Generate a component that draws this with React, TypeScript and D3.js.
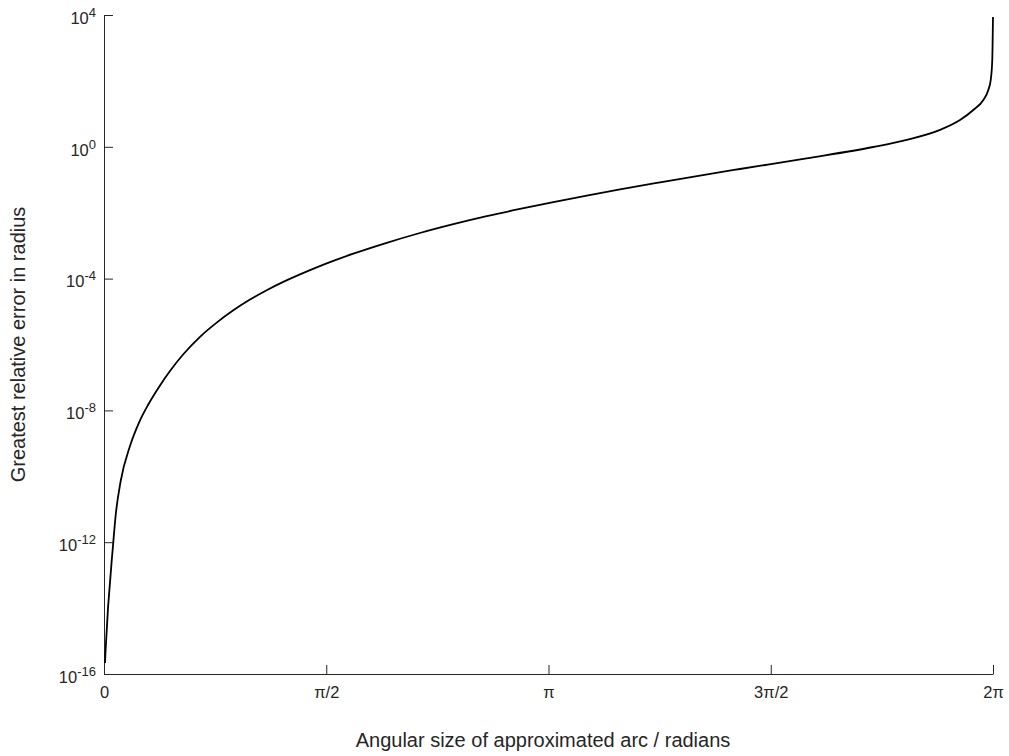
import React, { useEffect, useRef } from "react";
import * as d3 from "d3";

// values (angle in radians, greatest relative error)
const angles = [
  0.00707, 0.0106, 0.0657, 0.0827, 0.118, 0.1838, 0.2474, 0.311, 0.3958, 0.4665,
  0.5605, 0.6785, 0.7965, 0.9139, 1.0319, 1.1499, 1.2672, 1.3853, 1.5033, 1.6206,
  1.762, 1.998, 2.233, 2.469, 2.705, 2.94, 3.176, 3.412, 3.647, 3.93,
  4.212, 4.495, 4.966, 5.437, 5.673, 5.909, 6.05, 6.144, 6.215, 6.25,
  6.267, 6.278, 6.2831,
];
const errors = [
  2.16e-16, 4.66e-16, 1.0e-12, 6.7e-12, 7.2e-11, 8.3e-10, 4.27e-9, 1.46e-8, 5.74e-8, 1.57e-7,
  5.05e-7, 1.71e-6, 4.62e-6, 1.09e-5, 2.31e-5, 4.45e-5, 7.94e-5, 1.34e-4, 2.19e-4, 3.44e-4,
  5.7e-4, 1.22e-3, 2.42e-3, 4.48e-3, 7.83e-3, 0.013, 0.021, 0.033, 0.0509, 0.0832,
  0.134, 0.212, 0.448, 0.986, 1.63, 3.28, 6.5, 13.1, 26.3, 53,
  106, 431, 8700,
];

const xTicks = [0, Math.PI / 2, Math.PI, (3 * Math.PI) / 2, 2 * Math.PI];
const xTickLabels = ["0", "π/2", "π", "3π/2", "2π"];
const yTickExps = [-16, -12, -8, -4, 0, 4];

const FONT = "'Liberation Sans', Arial, Helvetica, sans-serif";

const App = () => {
  const ref = useRef<SVGSVGElement>(null);

  useEffect(() => {
    const width = 1009,
      height = 756;
    const margin = { top: 15, right: 16, bottom: 82, left: 104 };

    const svg = d3.select(ref.current);
    svg.selectAll("*").remove();

    const x = d3
      .scaleLinear()
      .domain([0, 2 * Math.PI])
      .range([margin.left, width - margin.right]);
    const y = d3
      .scaleLog()
      .domain([1e-16, 1e4])
      .range([height - margin.bottom, margin.top]);

    // x axis
    const gx = svg
      .append("g")
      .attr("transform", `translate(0,${height - margin.bottom})`)
      .call(
        d3
          .axisBottom(x)
          .tickValues(xTicks)
          .tickFormat((d, i) => xTickLabels[i])
          .tickSizeInner(-9)
          .tickSizeOuter(0)
          .tickPadding(12)
      );
    gx.selectAll("text").attr("font-size", 16.5).attr("font-family", FONT).attr("fill", "#262626");
    gx.selectAll("line,path").attr("stroke", "#262626");

    // y axis
    const gy = svg
      .append("g")
      .attr("transform", `translate(${margin.left},0)`)
      .call(
        d3
          .axisLeft(y)
          .tickValues(yTickExps.map((e) => Math.pow(10, e)))
          .tickFormat(() => "")
          .tickSizeInner(-9)
          .tickSizeOuter(0)
          .tickPadding(8)
      );
    gy.selectAll("line,path").attr("stroke", "#262626");
    gy.selectAll("text")
      .attr("font-family", FONT)
      .attr("fill", "#262626")
      .attr("font-size", 16.5)
      .attr("dy", "0.5em")
      .each(function (d, i) {
        const t = d3.select(this);
        t.append("tspan").text("10");
        t.append("tspan")
          .attr("font-size", 13)
          .attr("dy", -7)
          .text(String(yTickExps[i]));
      });

    // curve
    const pts = angles.map((a, i) => [a, errors[i]] as [number, number]);
    const line = d3
      .line<[number, number]>()
      .x((d) => x(d[0]))
      .y((d) => y(d[1]))
      .curve(d3.curveMonotoneX);
    svg
      .append("path")
      .datum(pts)
      .attr("d", line)
      .attr("fill", "none")
      .attr("stroke", "#000")
      .attr("stroke-width", 1.8)
      .attr("stroke-linejoin", "round");

    // axis labels
    svg
      .append("text")
      .attr("x", 543)
      .attr("y", 747)
      .attr("text-anchor", "middle")
      .attr("font-family", FONT)
      .attr("font-size", 20)
      .attr("fill", "#262626")
      .text("Angular size of approximated arc / radians");

    svg
      .append("text")
      .attr("transform", `translate(25,${(margin.top + height - margin.bottom) / 2}) rotate(-90)`)
      .attr("text-anchor", "middle")
      .attr("font-family", FONT)
      .attr("font-size", 20)
      .attr("fill", "#262626")
      .text("Greatest relative error in radius");
  }, []);

  return (
    <svg
      ref={ref}
      width={1009}
      height={756}
      style={{ position: "absolute", left: 0, top: 0, background: "#fff" }}
    />
  );
};

export default App;
